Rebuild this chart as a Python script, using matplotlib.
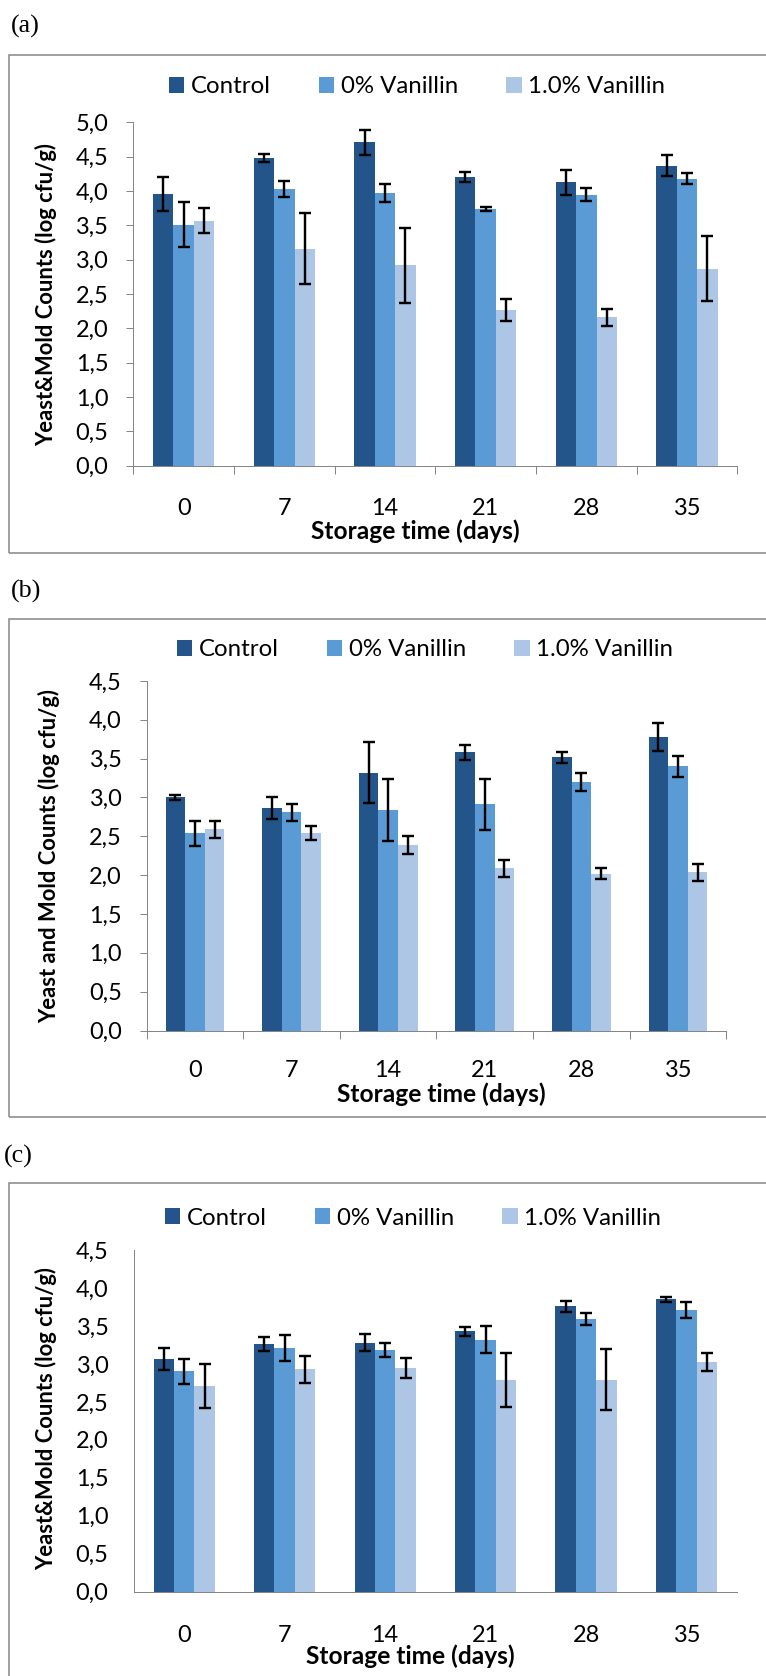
import matplotlib
matplotlib.use("Agg")
import matplotlib.pyplot as plt
from matplotlib.patches import Rectangle, Patch

# ---------------- data ----------------
days = ["0", "7", "14", "21", "28", "35"]
series_names = ["Control", "0% Vanillin", "1.0% Vanillin"]
colors = ["#23558A", "#5B9BD5", "#ADC6E6"]

a_control = [3.96, 4.48, 4.71, 4.21, 4.13, 4.37]
a_control_err = [0.25, 0.06, 0.18, 0.07, 0.18, 0.15]
a_van0 = [3.51, 4.03, 3.97, 3.74, 3.95, 4.18]
a_van0_err = [0.33, 0.12, 0.13, 0.03, 0.10, 0.08]
a_van1 = [3.57, 3.16, 2.92, 2.27, 2.16, 2.87]
a_van1_err = [0.18, 0.52, 0.55, 0.16, 0.12, 0.47]

b_control = [3.00, 2.86, 3.32, 3.58, 3.52, 3.78]
b_control_err = [0.03, 0.14, 0.39, 0.10, 0.07, 0.18]
b_van0 = [2.54, 2.81, 2.84, 2.91, 3.20, 3.40]
b_van0_err = [0.16, 0.11, 0.40, 0.33, 0.11, 0.13]
b_van1 = [2.59, 2.54, 2.39, 2.09, 2.02, 2.04]
b_van1_err = [0.11, 0.09, 0.12, 0.11, 0.07, 0.11]

c_control = [3.07, 3.26, 3.28, 3.43, 3.76, 3.85]
c_control_err = [0.145, 0.09, 0.11, 0.06, 0.07, 0.03]
c_van0 = [2.90, 3.21, 3.18, 3.32, 3.59, 3.71]
c_van0_err = [0.16, 0.17, 0.09, 0.18, 0.08, 0.11]
c_van1 = [2.71, 2.93, 2.95, 2.79, 2.79, 3.02]
c_van1_err = [0.29, 0.18, 0.13, 0.36, 0.40, 0.12]

a_yticks = [0.0, 0.5, 1.0, 1.5, 2.0, 2.5, 3.0, 3.5, 4.0, 4.5, 5.0]
bc_yticks = [0.0, 0.5, 1.0, 1.5, 2.0, 2.5, 3.0, 3.5, 4.0, 4.5]

# ---------------- layout (pixels) ----------------
W, H = 766, 1676
DPI = 100
PT = 72.0 / DPI  # points per pixel

FONT = "Lato"
TICK_FS = 23.5 * PT
LEG_FS = 24.0 * PT
XL_FS = 24.5 * PT
YL_FS = 22 * PT
GRAY = "#868686"
BOX = "#8a8a8a"

fig = plt.figure(figsize=(W / DPI, H / DPI), dpi=DPI)
fig.patch.set_facecolor("white")


def fx(x):
    return x / W


def fy(y):
    return 1 - y / H


panels = [
    dict(tag="(a)", tag_xy=(11, 33), ax=(133.3, 122.5, 737.3, 465.7), ymax=5.0,
         yticks=a_yticks, ticks=True, legend=(169, 86.7),
         xlabel=(415, 539), ylabel=(46, 294), ylabel_text="Yeast&Mold Counts (log cfu/g)",
         box=(9, 55, 553), xpad=32.0,
         data=[(a_control, a_control_err), (a_van0, a_van0_err), (a_van1, a_van1_err)]),
    dict(tag="(b)", tag_xy=(11, 598), ax=(146.7, 681.0, 726.3, 1030.5), ymax=4.5,
         yticks=bc_yticks, ticks=True, legend=(177, 650),
         xlabel=(441, 1102), ylabel=(49, 856), ylabel_text="Yeast and Mold Counts (log cfu/g)",
         box=(9, 619.3, 1116.5), xpad=29.5,
         data=[(b_control, b_control_err), (b_van0, b_van0_err), (b_van1, b_van1_err)]),
    dict(tag="(c)", tag_xy=(4, 1163), ax=(134.0, 1250.0, 736.7, 1591.7), ymax=4.5,
         yticks=bc_yticks, ticks=False, legend=(165, 1218),
         xlabel=(410, 1664), ylabel=(46, 1418), ylabel_text="Yeast&Mold Counts (log cfu/g)",
         box=(9, 1183.3, H + 20), xpad=33.0,
         data=[(c_control, c_control_err), (c_van0, c_van0_err), (c_van1, c_van1_err)]),
]

bar_w = 0.203
xs = list(range(len(days)))

for p in panels:
    l, t, r, b = p["ax"]
    ax = fig.add_axes([fx(l), fy(b), (r - l) / W, (b - t) / H])
    ax.set_facecolor("none")
    for k, ((vals, errs), col) in enumerate(zip(p["data"], colors)):
        pos = [x + (k - 1) * bar_w for x in xs]
        ax.bar(pos, vals, width=bar_w, color=col, edgecolor="none", zorder=2)
        ax.errorbar(pos, vals, yerr=errs, fmt="none", ecolor="black",
                    elinewidth=2.4 * PT, capsize=6.2 * PT, capthick=2.4 * PT, zorder=3)
    ax.set_xlim(-0.5, len(days) - 0.5)
    ax.set_ylim(0, p["ymax"])
    for s in ["top", "right"]:
        ax.spines[s].set_visible(False)
    for s in ["left", "bottom"]:
        ax.spines[s].set_color(GRAY)
        ax.spines[s].set_linewidth(1.0 * PT)
    ax.set_yticks(p["yticks"])
    ax.set_yticklabels([f"{v:.1f}".replace(".", ",") for v in p["yticks"]],
                       fontfamily=FONT, fontsize=TICK_FS)
    ax.set_xticks(xs)
    ax.set_xticklabels(days, fontfamily=FONT, fontsize=TICK_FS)
    ax.set_xticks([x - 0.5 for x in range(len(days) + 1)], minor=True)
    ax.tick_params(axis="x", which="major", length=0, pad=p["xpad"] * PT)
    if p["ticks"]:
        ax.tick_params(axis="y", which="major", length=7 * PT, width=1.0 * PT,
                       color=GRAY, direction="out", pad=18.0 * PT)
        ax.tick_params(axis="x", which="minor", length=8 * PT, width=1.0 * PT,
                       color=GRAY, direction="out")
    else:
        ax.tick_params(axis="y", which="major", length=0, pad=25.5 * PT)
        ax.tick_params(axis="x", which="minor", length=0)

    handles = [Patch(facecolor=c, edgecolor="none") for c in colors]
    lx, ly = p["legend"]
    ax.legend(handles, series_names, ncol=3, frameon=False, loc="center left",
              bbox_to_anchor=(fx(lx), fy(ly)), bbox_transform=fig.transFigure,
              borderpad=0, borderaxespad=0, handlelength=0.63, handleheight=0.63,
              handletextpad=0.27, columnspacing=2.02,
              prop=dict(family=FONT, size=LEG_FS))

    fig.text(fx(p["xlabel"][0]), fy(p["xlabel"][1]), "Storage time (days)",
             ha="center", va="baseline", fontfamily=FONT, fontweight="bold", fontsize=XL_FS)
    fig.text(fx(p["ylabel"][0]), fy(p["ylabel"][1]), p["ylabel_text"],
             ha="center", va="center", rotation=90, fontfamily=FONT,
             fontweight="bold", fontsize=YL_FS)
    fig.text(fx(p["tag_xy"][0]), fy(p["tag_xy"][1]), p["tag"], ha="left", va="baseline",
             fontfamily="Liberation Serif", fontsize=26 * PT)

    bl, bt, bb = p["box"]
    fig.patches.append(Rectangle((fx(bl), fy(bb)), (W + 20 - bl) / W, (bb - bt) / H,
                                 transform=fig.transFigure, fill=False,
                                 edgecolor=BOX, linewidth=1.6 * PT))

fig.savefig("out.png", dpi=DPI, facecolor="white")
